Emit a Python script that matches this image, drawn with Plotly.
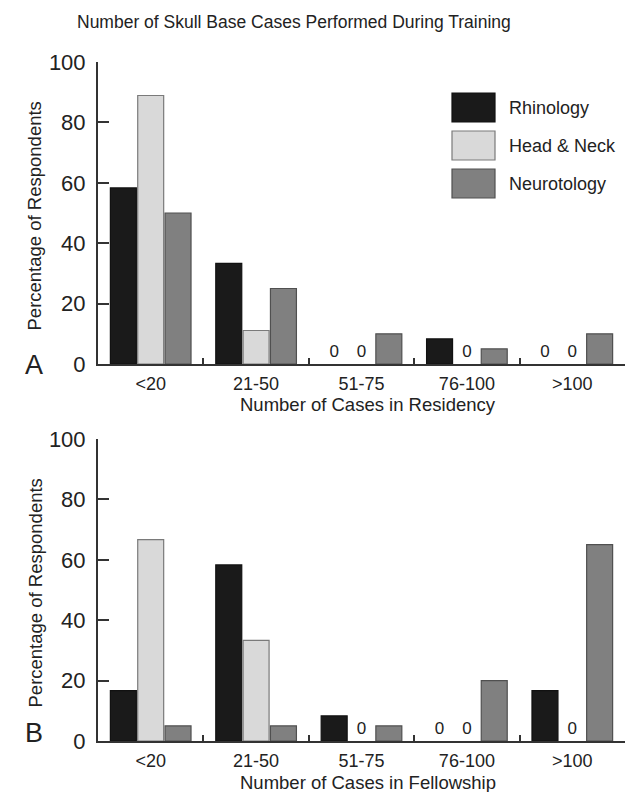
import plotly.graph_objects as go

categories = ["<20", "21-50", "51-75", "76-100", ">100"]
series_names = ["Rhinology", "Head & Neck", "Neurotology"]

residency_rhinology = [58.3, 33.3, 0, 8.3, 0]
residency_head_neck = [88.9, 11.1, 0, 0, 0]
residency_neurotology = [50, 25, 10, 5, 10]

fellowship_rhinology = [16.7, 58.3, 8.3, 0, 16.7]
fellowship_head_neck = [66.7, 33.3, 0, 0, 0]
fellowship_neurotology = [5, 5, 5, 20, 65]

y_ticks = [0, 20, 40, 60, 80, 100]

FONT = "Liberation Sans, Arial, sans-serif"
INK = "#222222"
AX = "#333333"
fills = ["#1a1a1a", "#d9d9d9", "#808080"]
edges = ["#111111", "#7a7a7a", "#505050"]

W, H = 632, 792
ML, MR, MT, MB = 98, 7, 62, 51

fig = go.Figure()

panels = [
    ("x", "y", [residency_rhinology, residency_head_neck, residency_neurotology]),
    ("x2", "y2", [fellowship_rhinology, fellowship_head_neck, fellowship_neurotology]),
]
for xa, ya, data in panels:
    for name, vals, fc, ec in zip(series_names, data, fills, edges):
        fig.add_trace(go.Bar(
            x=categories, y=vals, name=name, xaxis=xa, yaxis=ya,
            marker=dict(color=fc, line=dict(color=ec,
                                            width=[0 if v == 0 else 1.2 for v in vals])),
            text=["0" if v == 0 else "" for v in vals],
            textposition="outside",
            textfont=dict(family=FONT, size=17, color=INK),
            cliponaxis=False, showlegend=False, hoverinfo="skip",
        ))

plot_h = H - MT - MB
dom_a = [(H - MB - 364) / plot_h, 1.0]
dom_b = [0.0, (H - MB - 439) / plot_h]

xcommon = dict(
    type="category", range=[-0.5, 4.5], tickson="boundaries",
    ticks="inside", ticklen=6, tickwidth=2, tickcolor=AX,
    showline=True, linewidth=2, linecolor=AX, showgrid=False, zeroline=False,
    tickfont=dict(family=FONT, size=18, color=INK), fixedrange=True,
    ticklabelstandoff=2,
)
ycommon = dict(
    range=[0, 100], tickvals=y_ticks, ticks="inside", ticklen=11, tickwidth=2,
    tickcolor=AX, showline=True, linewidth=2, linecolor=AX, showgrid=False,
    zeroline=False, tickfont=dict(family=FONT, size=22, color=INK),
    ticklabelstandoff=6, fixedrange=True,
)

fig.update_layout(
    width=W, height=H, margin=dict(l=ML, r=MR, t=MT, b=MB),
    paper_bgcolor="white", plot_bgcolor="white",
    barmode="group", bargap=0.222, bargroupgap=0.05,
    font=dict(family=FONT, color=INK),
    xaxis=dict(domain=[0, 1], anchor="y", **xcommon),
    yaxis=dict(domain=dom_a, anchor="x", **ycommon),
    xaxis2=dict(domain=[0, 1], anchor="y2", **xcommon),
    yaxis2=dict(domain=dom_b, anchor="x2", **ycommon),
)

def px_x(px):
    return (px - ML) / (W - ML - MR)

def px_y(py):
    return (H - MB - py) / plot_h

ann = []
# main title
ann.append(dict(text="Number of Skull Base Cases Performed During Training",
                x=px_x(293.5), y=px_y(22), xref="paper", yref="paper",
                xanchor="center", yanchor="middle", showarrow=False,
                font=dict(size=17.5, family=FONT, color=INK)))
# y-axis titles
for cy in [(62 + 364) / 2, (439 + 741) / 2]:
    ann.append(dict(text="Percentage of Respondents", x=px_x(34.5), y=px_y(cy + 3),
                    xref="paper", yref="paper", xanchor="center", yanchor="middle",
                    textangle=-90, showarrow=False,
                    font=dict(size=18.5, family=FONT, color=INK)))
# x-axis titles
for text, cy in [("Number of Cases in Residency", 404), ("Number of Cases in Fellowship", 782)]:
    ann.append(dict(text=text, x=px_x(368), y=px_y(cy), xref="paper", yref="paper",
                    xanchor="center", yanchor="middle", showarrow=False,
                    font=dict(size=18.5, family=FONT, color=INK)))
# panel letters
for letter, cy in [("A", 365), ("B", 733)]:
    ann.append(dict(text=letter, x=px_x(34), y=px_y(cy), xref="paper", yref="paper",
                    xanchor="center", yanchor="middle", showarrow=False,
                    font=dict(size=27, family=FONT, color=INK)))

# custom legend
shapes = []
box_tops = [93, 131, 169]
for name, fc, ec, top in zip(series_names, fills, edges, box_tops):
    shapes.append(dict(type="rect", xref="paper", yref="paper",
                       x0=px_x(452), x1=px_x(495), y0=px_y(top + 29), y1=px_y(top),
                       fillcolor=fc, line=dict(color=ec, width=1.2)))
    ann.append(dict(text=name, x=px_x(507), y=px_y(top + 15), xref="paper", yref="paper",
                    xanchor="left", yanchor="middle", showarrow=False,
                    font=dict(size=18, family=FONT, color=INK)))

fig.update_layout(annotations=ann, shapes=shapes)
fig.write_html(
    "out.html",
    config={"displayModeBar": False, "staticPlot": True},
    post_script="document.body.style.margin='0';document.body.style.overflow='hidden';",
)
